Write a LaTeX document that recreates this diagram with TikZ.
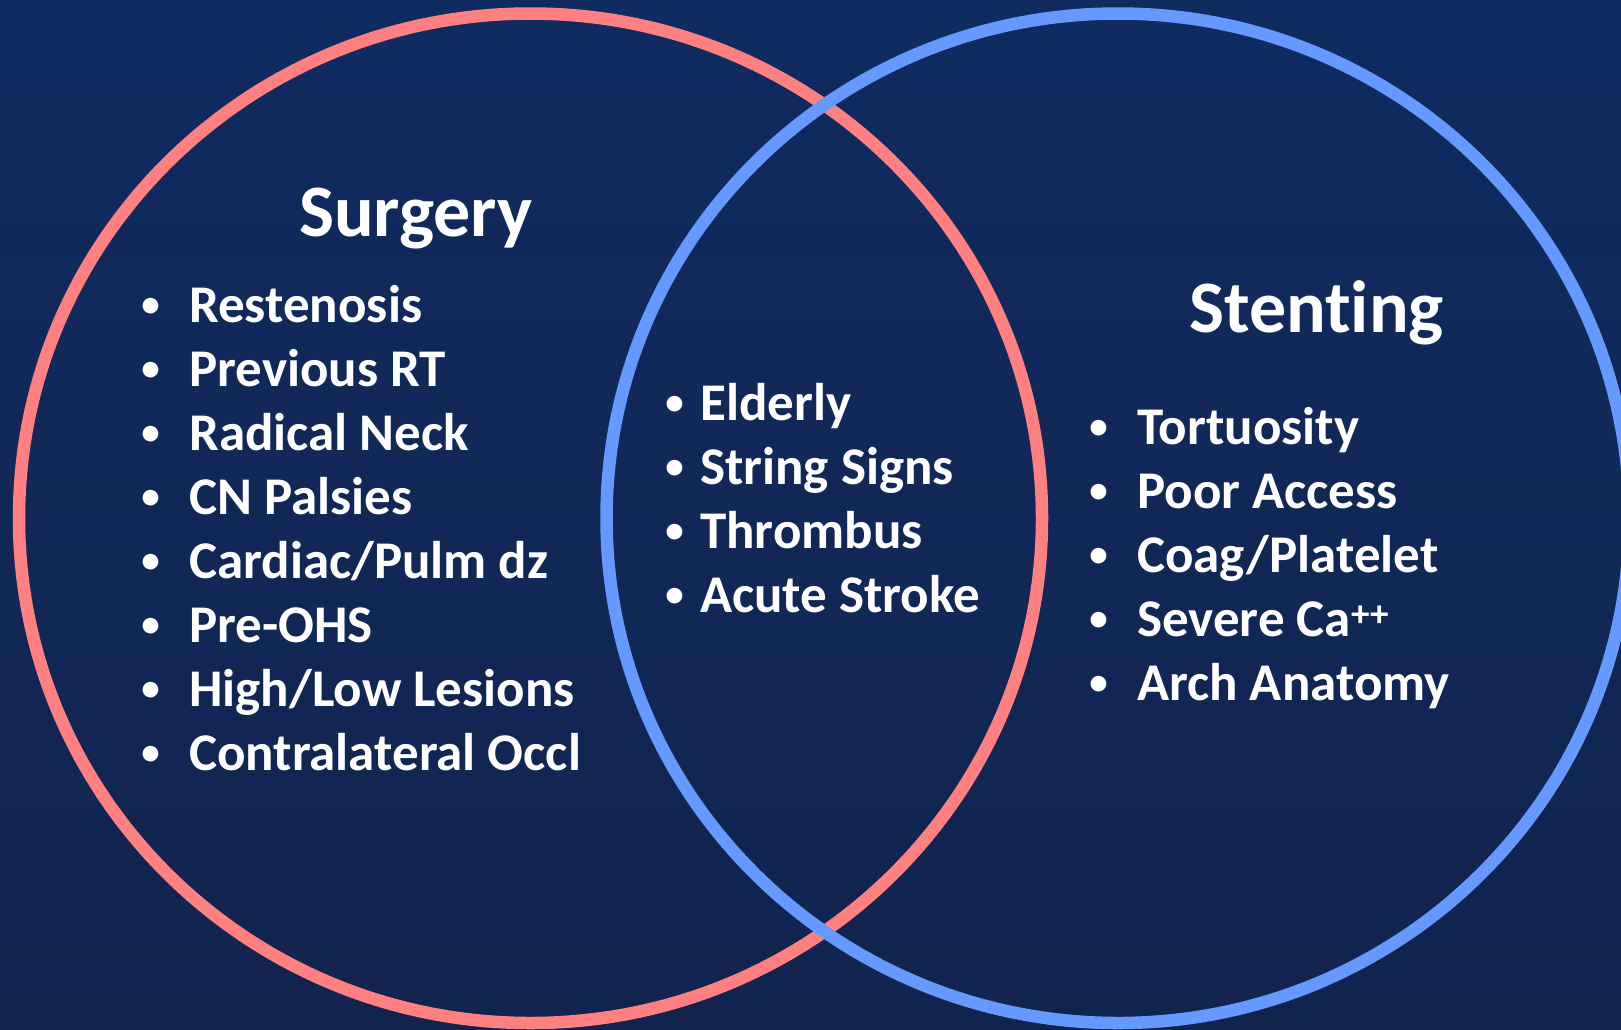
\documentclass[tikz,border=0pt]{standalone}
\usepackage{fontspec}
\setmainfont[Ligatures=NoCommon]{Carlito}
\definecolor{bgtop}{RGB}{16,43,96}
\definecolor{bgbot}{RGB}{18,36,78}
\definecolor{salmon}{RGB}{255,128,128}
\definecolor{skyblue}{RGB}{102,153,255}
\newcommand{\smallbul}{\raisebox{5.5pt}{\fontsize{37}{37}\selectfont\textbullet}}
\newcommand{\bulA}{\llap{\smallbul\hspace{29.5pt}}}
\newcommand{\bulB}{\llap{\smallbul\hspace{16.5pt}}}
\begin{document}
\begin{tikzpicture}[x=1pt,y=-1pt,
  ring/.style={line width=12.5pt},
  title/.style={anchor=base west,inner sep=0pt,text=white,font=\fontsize{74}{88}\selectfont\bfseries},
  item/.style={anchor=base west,inner sep=0pt,text=white,font=\fontsize{53}{64}\selectfont\bfseries}]
\useasboundingbox (0,0) rectangle (1621,1029);
\clip (0,0) rectangle (1621,1029);
\fill[top color=bgtop,bottom color=bgbot] (0,0) rectangle (1621,1029);
\coordinate (cl) at (530.5,518.25);
\coordinate (cr) at (1118,518.25);
\draw[ring,salmon] (cl) ellipse [x radius=511.5, y radius=504.75];
\draw[ring,skyblue] (cr) ellipse [x radius=511.5, y radius=504.75];
% titles
\node[title] (tsurg) at (299,236) {Surgery};
\node[title] (tsten) at (1189,332) {Stenting};
% surgery items
\node[item] (s1) at (189,322) {\bulA Restenosis};
\node[item] (s2) at (189,386) {\bulA Previous RT};
\node[item] (s3) at (189,450) {\bulA Radical Neck};
\node[item] (s4) at (189,514) {\bulA CN Palsies};
\node[item] (s5) at (189,578) {\bulA Cardiac/Pulm dz};
\node[item] (s6) at (189,642) {\bulA Pre-OHS};
\node[item] (s7) at (189,706) {\bulA High/Low Lesions};
\node[item] (s8) at (189,770) {\bulA Contralateral Occl};
% shared items
\node[item] (b1) at (700,420) {\bulB Elderly};
\node[item] (b2) at (700,484) {\bulB String Signs};
\node[item] (b3) at (700,548) {\bulB Thrombus};
\node[item] (b4) at (700,612) {\bulB Acute Stroke};
% stenting items
\node[item] (t1) at (1137,444) {\bulA Tortuosity};
\node[item] (t2) at (1137,508) {\bulA Poor Access};
\node[item] (t3) at (1137,572) {\bulA Coag/Platelet};
\node[item] (t4) at (1137,636) {\bulA Severe Ca\textsuperscript{++}};
\node[item] (t5) at (1137,700) {\bulA Arch Anatomy};
\end{tikzpicture}
\end{document}
